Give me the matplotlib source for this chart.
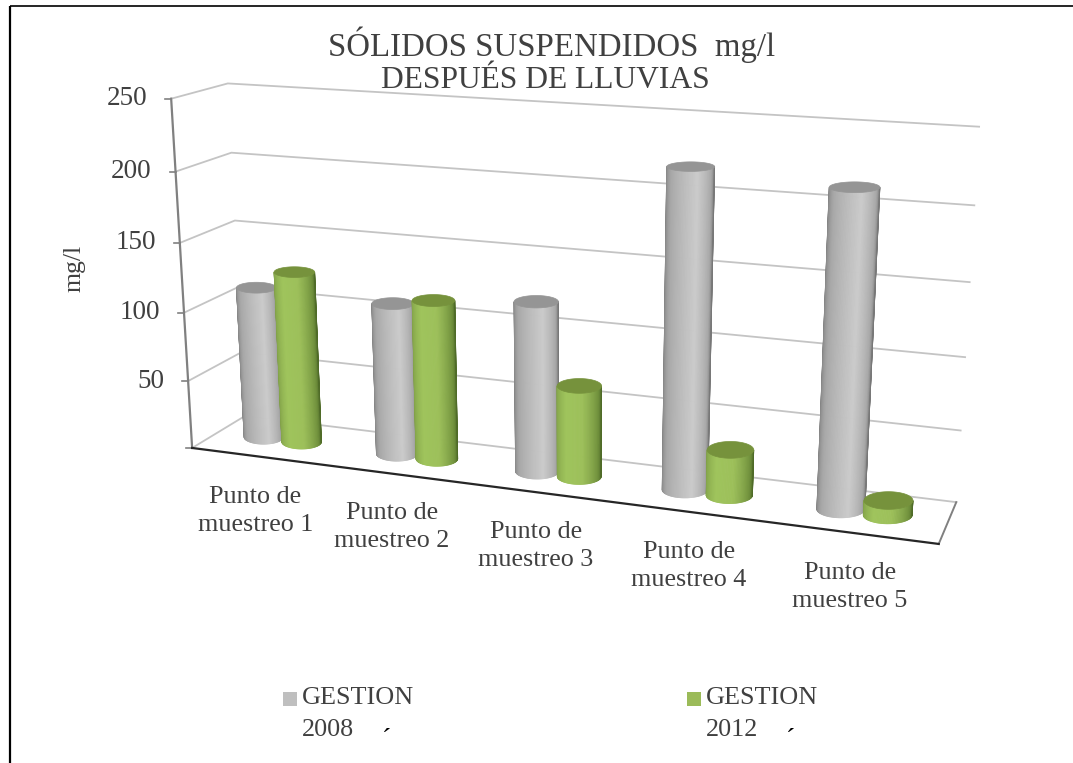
import numpy as np
import matplotlib
matplotlib.use("Agg")
import matplotlib.pyplot as plt
from matplotlib.collections import PolyCollection
from matplotlib.patches import Polygon, Rectangle

plt.rcParams["font.family"] = ["Liberation Serif", "DejaVu Serif"]

# ---------- data ----------
categories = ["Punto de\nmuestreo 1", "Punto de\nmuestreo 2", "Punto de\nmuestreo 3",
              "Punto de\nmuestreo 4", "Punto de\nmuestreo 5"]
gestion_2008 = [112, 110, 121, 220, 214]
gestion_2012 = [126, 115, 65, 32, 10]
y_ticks = [50, 100, 150, 200, 250]
legend_labels = [["GESTION", "2008"], ["GESTION", "2012"]]

Y_MAX = 250
RADIUS = 0.15
OFFSET_GRAY = 0.155
OFFSET_GREEN = 0.135
TEXT = "#404040"
GRID = "#c4c4c4"

# ---------- box corners -> picture (x cat, y depth, z value) ----------
box = np.array([[0, 0, 0], [5, 0, 0], [5, 1, 0], [0, 1, 0],
                [0, 0, Y_MAX], [5, 0, Y_MAX], [5, 1, Y_MAX], [0, 1, Y_MAX]], float)
pix = np.array([[192, 447], [938, 544], [957, 502], [245, 417],
                [171, 98], [963, 149], [978, 125], [228, 84]], float)

# camera from the 8 corners (least squares)
A, b = [], []
for (X, Y, Z), (u, v) in zip(box, pix):
    A.append([X, Y, Z, 1, 0, 0, 0, 0, -u * X, -u * Y, -u * Z])
    A.append([0, 0, 0, 0, X, Y, Z, 1, -v * X, -v * Y, -v * Z])
    b += [u, v]
P = np.linalg.lstsq(np.array(A), np.array(b), rcond=None)[0]
P = np.append(P, 1).reshape(3, 4)


def pt(X, Y, Z):
    p = P @ np.array([X, Y, Z, 1.0])
    return p[:2] / p[2]


def shade(s, stops):
    pos, cols = zip(*stops)
    cols = np.array([matplotlib.colors.to_rgb(c) for c in cols])
    return [np.interp(s, pos, cols[:, k]) for k in range(3)]


gray_style = dict(top="#959595", stops=[(0, "#808080"), (0.2, "#a8a8a8"), (0.6, "#cbcbcb"), (0.85, "#a8a8a8"), (1, "#787878")])
green_style = dict(top="#76923c", stops=[(0, "#7f9e47"), (0.3, "#9fc45c"), (0.55, "#9dc05a"), (0.85, "#6f8f3c"), (1, "#4f6b28")])


def ring(cx, z, ang):
    # flat ellipse around the bar axis, rounder lower in the picture
    c = pt(cx, 0.5, z)
    w = abs(pt(cx + RADIUS, 0.5, z)[0] - pt(cx - RADIUS, 0.5, z)[0]) / 2
    ratio = np.clip(0.2 + (c[1] - 168) * 0.0006, 0.18, 0.36)
    return np.column_stack([c[0] + w * np.cos(ang), c[1] + ratio * w * np.sin(ang)])


def cylinder(ax, cx, value, style):
    front = np.linspace(np.pi, 0, 61)
    low, high = ring(cx, 0, front), ring(cx, value, front)
    polys, cols = [], []
    for j in range(len(front) - 1):
        polys.append([low[j], low[j + 1], high[j + 1], high[j]])
        cols.append(shade(j / (len(front) - 2), style["stops"]))
    ax.add_collection(PolyCollection(polys, facecolors=cols, edgecolors=cols, linewidths=0.6, zorder=3))
    top = ring(cx, value, np.linspace(0, 2 * np.pi, 121))
    ax.add_patch(Polygon(top, closed=True, fc=style["top"], ec=style["top"], lw=0.5, zorder=3))


# ---------- figure: axes in picture pixels ----------
fig = plt.figure(figsize=(10.73, 7.63), dpi=100)
ax = fig.add_axes([0, 0, 1, 1])
ax.set_xlim(0, 1073)
ax.set_ylim(763, 0)
ax.axis("off")

# chart frame (open on the right)
ax.plot([9.5, 9.5], [763, 5.5], color="black", lw=1.6, solid_capstyle="butt")
ax.plot([9.5, 1073], [5.5, 5.5], color="black", lw=1.2, solid_capstyle="butt")

# wall + side gridlines
for v in [0] + y_ticks:
    tick = pt(0, 0, v)
    back_l = pt(0, 1, v)
    back_r = pt(5, 1, v)
    ax.plot([tick[0], back_l[0], back_r[0]], [tick[1], back_l[1], back_r[1]], color=GRID, lw=1.3, zorder=1)
    ax.plot([tick[0] - 6, tick[0]], [tick[1], tick[1]], color="#808080", lw=1.2, zorder=2)

# value axis, floor edges
a0, a1 = pt(0, 0, 0), pt(0, 0, Y_MAX)
ax.plot([a0[0], a1[0]], [a0[1], a1[1]], color="#808080", lw=1.6, zorder=2)
f1, f2, f3 = pt(0, 0, 0), pt(5, 0, 0), pt(5, 1, 0)
ax.plot([f2[0], f3[0]], [f2[1], f3[1]], color="#808080", lw=1.4, zorder=2)
ax.plot([f1[0], f2[0]], [f1[1], f2[1]], color="#262626", lw=1.6, zorder=2)

for i in range(len(categories)):
    cylinder(ax, i + 0.5 - OFFSET_GRAY, gestion_2008[i], gray_style)
    cylinder(ax, i + 0.5 + OFFSET_GREEN, gestion_2012[i], green_style)

# tick labels
for v in y_ticks:
    tick = pt(0, 0, v)
    ax.text(tick[0] - 24, tick[1], str(v), ha="right", va="center", fontsize=19.5, color=TEXT)

# category labels follow the front edge
cat_xy = [(255.5, 511), (392, 527), (536, 546), (689, 566), (850, 587)]
for lab, (x, y) in zip(categories, cat_xy):
    ax.text(x, y, lab, ha="center", va="center", fontsize=18.8, color=TEXT, linespacing=1.4)

ax.text(74, 268, "mg/l", rotation=90, ha="center", va="center", fontsize=18.5, color=TEXT)
ax.text(552, 45, "SÓLIDOS SUSPENDIDOS  mg/l", ha="center", va="center", fontsize=23.7, color=TEXT)
ax.text(545, 81, "DESPUÉS DE LLUVIAS", ha="center", va="center", fontsize=22.7, color=TEXT)

# legend
for lab, col, x in zip(legend_labels, ["#bfbfbf", "#9bbb59"], [283, 687]):
    ax.add_patch(Rectangle((x, 692), 13.5, 14, fc=col, ec="none"))
    ax.text(x + 19, 698, lab[0], ha="left", va="center", fontsize=18.8, color=TEXT)
    ax.text(x + 19, 730, lab[1], ha="left", va="center", fontsize=18.8, color=TEXT)
    ax.text(x + 103, 741, "´", ha="center", va="center", fontsize=20, color="black")

fig.savefig("out.png", dpi=100, facecolor="white")
plt.close(fig)
